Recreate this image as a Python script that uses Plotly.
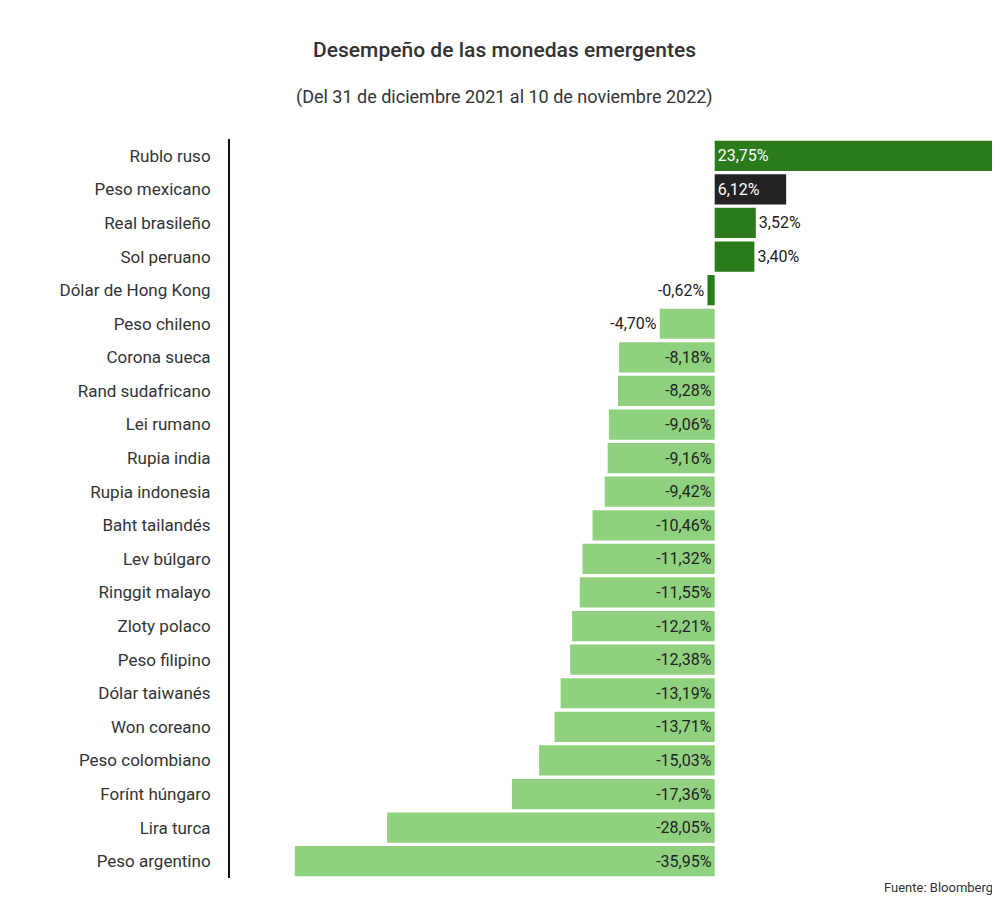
import plotly.graph_objects as go

currencies = ["Rublo ruso","Peso mexicano","Real brasileño","Sol peruano","Dólar de Hong Kong","Peso chileno",
"Corona sueca","Rand sudafricano","Lei rumano","Rupia india","Rupia indonesia","Baht tailandés","Lev búlgaro",
"Ringgit malayo","Zloty polaco","Peso filipino","Dólar taiwanés","Won coreano","Peso colombiano","Forínt húngaro",
"Lira turca","Peso argentino"]
values = [23.75,6.12,3.52,3.40,-0.62,-4.70,-8.18,-8.28,-9.06,-9.16,-9.42,-10.46,-11.32,-11.55,-12.21,-12.38,
-13.19,-13.71,-15.03,-17.36,-28.05,-35.95]

DARK, LIGHT, BLACK = "#2b7a1c", "#8fd17e", "#222222"
colors = []
for c, v in zip(currencies, values):
    if c == "Peso mexicano": colors.append(BLACK)
    elif v > -1: colors.append(DARK)
    else: colors.append(LIGHT)
texts = [f"{v:.2f}%".replace(".", ",") for v in values]
pos = ["outside" if abs(v) < 5 else "inside" for v in values]
tcol = []
for v, p, col in zip(values, pos, colors):
    tcol.append("white" if (p == "inside" and col != LIGHT) else "#222")

fig = go.Figure(go.Bar(
    x=values, y=currencies, orientation="h", marker=dict(color=colors, line=dict(width=0)),
    text=texts, textposition=pos, insidetextanchor="start", cliponaxis=False,
    textfont=dict(color=tcol, size=16, family="Roboto"), outsidetextfont=dict(color="#222", size=16, family="Roboto"),
    insidetextfont=dict(color=tcol, size=16, family="Roboto")))

fig.update_layout(
    width=1000, height=912, plot_bgcolor="white", paper_bgcolor="white",
    margin=dict(l=222, r=13, t=131, b=42), bargap=0.1, showlegend=False,
    font=dict(family="Roboto", color="#333"),
    xaxis=dict(range=[-41.5, 24.0], visible=False, fixedrange=True),
    yaxis=dict(autorange="reversed", showline=True, linecolor="#111", linewidth=2, ticks="",
               tickfont=dict(size=17, color="#333"), ticklabelstandoff=14, showgrid=False),
    annotations=[
        dict(text="Desempeño de las monedas emergentes", x=0.5, y=28, xref="paper", yref="paper", showarrow=False),
    ],
)
fig.layout.annotations = [
    dict(text="<b>Desempeño de las monedas emergentes</b>", x=496, y=28, xref="paper", yref="paper", showarrow=False),
]
fig.layout.annotations = []
fig.add_annotation(text="Desempeño de las monedas emergentes", xref="paper", yref="paper",
                   x=(496-222)/765, y=1+(131-28)/739, showarrow=False, font=dict(size=21, color="#333", family="Roboto Medium, Roboto"))
fig.add_annotation(text="(Del 31 de diciembre 2021 al 10 de noviembre 2022)", xref="paper", yref="paper",
                   x=(496-222)/765, y=1+(131-76)/739, showarrow=False, font=dict(size=18, color="#333"))
fig.add_annotation(text="Fuente: Bloomberg", xref="paper", yref="paper", x=1, xanchor="right",
                   y=-(889-870)/739, showarrow=False, font=dict(size=13, color="#333"))
fig.write_html("out.html")
